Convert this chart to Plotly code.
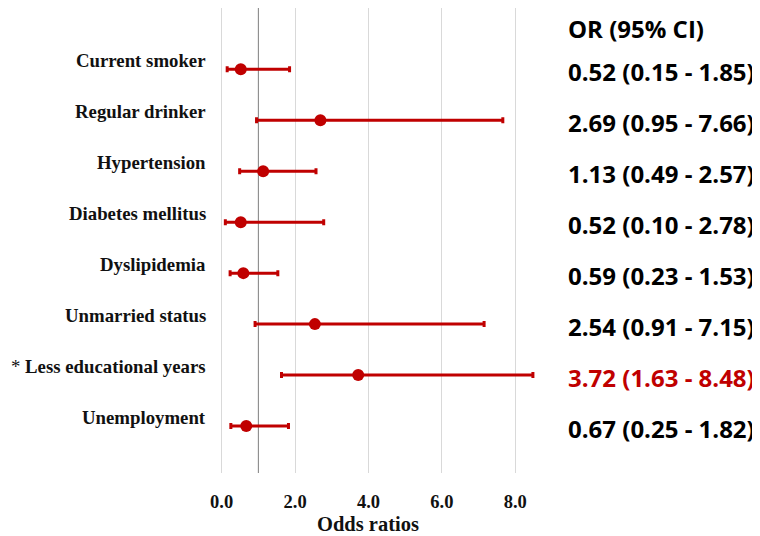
import plotly.graph_objects as go

categories = ["Current smoker", "Regular drinker", "Hypertension", "Diabetes mellitus",
              "Dyslipidemia", "Unmarried status", "* Less educational years", "Unemployment"]
odds_ratio = [0.52, 2.69, 1.13, 0.52, 0.59, 2.54, 3.72, 0.67]
ci_low = [0.15, 0.95, 0.49, 0.10, 0.23, 0.91, 1.63, 0.25]
ci_high = [1.85, 7.66, 2.57, 2.78, 1.53, 7.15, 8.48, 1.82]
significant = [False, False, False, False, False, False, True, False]
tick_vals = [0, 2, 4, 6, 8]
tick_text = ["0.0", "2.0", "4.0", "6.0", "8.0"]

RED = "#C00000"
rows = list(range(len(categories)))

# page body has an 8px margin, so the figure is drawn 8px smaller and offset
OFF = 8
FW, FH = 760 - OFF, 536 - OFF
L = 218 - OFF
R = 552.45 - OFF
T = 8 - OFF
B = 473 - OFF
W = R - L

fig = go.Figure()
fig.add_trace(go.Scatter(
    x=odds_ratio, y=rows, mode="markers",
    marker=dict(color=RED, size=12),
    error_x=dict(type="data", symmetric=False,
                 array=[h - o for h, o in zip(ci_high, odds_ratio)],
                 arrayminus=[o - l for o, l in zip(odds_ratio, ci_low)],
                 color=RED, thickness=3, width=3),
    showlegend=False, hoverinfo="skip", cliponaxis=False,
))

# reference line at OR = 1
fig.add_shape(type="line", x0=1, x1=1, y0=0, y1=1, xref="x", yref="paper",
              line=dict(color="#7f7f7f", width=1), layer="below")


def px_to_paper(px_screen):
    return (px_screen - OFF - L) / W


def label_html(cat):
    if cat.startswith("* "):
        return "* <b>" + cat[2:] + "</b>"
    return "<b>" + cat + "</b>"


for i, (cat, o, lo, hi, sig) in enumerate(zip(categories, odds_ratio, ci_low, ci_high, significant)):
    fig.add_annotation(x=px_to_paper(207.5), xref="paper", y=i, yref="y",
                       text=label_html(cat), showarrow=False, xanchor="right", yanchor="middle",
                       align="right", yshift=9,
                       font=dict(family="Liberation Serif", size=18.8, color="#111111"))
    fig.add_annotation(x=px_to_paper(566), xref="paper", y=i, yref="y",
                       text=f"<b>{o:.2f} ({lo:.2f} - {hi:.2f})</b>", showarrow=False,
                       xanchor="left", yanchor="middle", align="left", yshift=-2,
                       font=dict(family="Open Sans", size=24, color=RED if sig else "#000000"))

fig.add_annotation(x=px_to_paper(566), xref="paper", y=-0.8, yref="y",
                   text="<b>OR (95% CI)</b>", showarrow=False, xanchor="left", yanchor="middle",
                   align="left",
                   font=dict(family="Open Sans", size=24, color="#000000"))

fig.add_annotation(x=4, xref="x", y=0, yref="paper", yshift=-51,
                   text="<b>Odds ratios</b>", showarrow=False, xanchor="center", yanchor="middle",
                   font=dict(family="Liberation Serif", size=20.5, color="#111111"))

fig.update_xaxes(range=[-0.1, 9.0], tickvals=tick_vals, ticktext=[f"<b>{t}</b>" for t in tick_text],
                 showgrid=True, gridcolor="#d9d9d9", gridwidth=1, zeroline=False,
                 showline=False, ticks="outside", ticklen=12, tickcolor="rgba(0,0,0,0)",
                 tickfont=dict(family="Liberation Serif", size=18.5, color="#111111"))
fig.update_yaxes(range=[7.92, -1.2], showticklabels=False, showgrid=False, zeroline=False,
                 showline=False)

fig.update_layout(width=FW, height=FH, margin=dict(l=L, r=FW - R, t=T, b=FH - B, pad=0),
                  plot_bgcolor="white", paper_bgcolor="white")

fig.write_html("out.html")
